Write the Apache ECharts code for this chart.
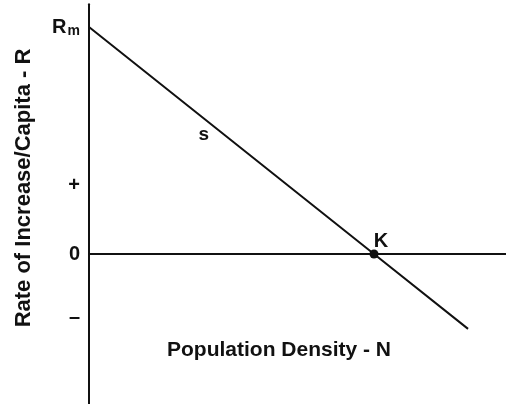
<!DOCTYPE html>
<html>
<head>
<meta charset="utf-8">
<script src="https://cdn.jsdelivr.net/npm/echarts@6/dist/echarts.min.js"></script>
<style>
  html, body { margin: 0; padding: 0; background: #fff; }
  #chart { width: 506px; height: 404px; }
</style>
</head>
<body>
<div id="chart"></div>
<script>
// logistic growth: per-capita rate falls linearly with density
const lineN = [0, 100, 133];
const lineR = [1, 0, -0.33];
const tickValues = [-0.28, 0, 0.3, 1];
const tickLabels = ["–", "0", "+", "Rm"];
const kPoint = [100, 0];
const slopeLabelAt = [41, 0.59];

const ink = "#111";
const font = "Liberation Sans";

const chart = echarts.init(document.getElementById("chart"));
const option = {
  animation: false,
  backgroundColor: "#fff",
  grid: { left: 89, top: 4.3, width: 427.5, height: 399.5, outerBoundsMode: "none" },
  xAxis: {
    type: "value",
    min: 0,
    max: 150,
    axisLine: { show: true, onZero: true, lineStyle: { color: ink, width: 2 } },
    axisTick: { show: false },
    axisLabel: { show: false },
    splitLine: { show: false },
  },
  yAxis: {
    type: "value",
    min: -0.66,
    max: 1.1,
    axisLine: { show: true, lineStyle: { color: ink, width: 2 } },
    axisTick: { show: false },
    splitLine: { show: false },
    axisLabel: {
      customValues: tickValues,
      margin: 9,
      formatter: (v) => {
        const i = tickValues.indexOf(v);
        const t = tickLabels[i];
        if (t === "Rm") return "{b|R}{s|m}";
        return "{b|" + t + "}";
      },
      rich: {
        b: { fontFamily: font, fontWeight: "bold", fontSize: 20, color: ink },
        s: { fontFamily: font, fontWeight: "bold", fontSize: 14, color: ink, padding: [8, 0, 0, 1] },
      },
    },
  },
  graphic: [
    {
      type: "text",
      x: 279,
      y: 350,
      style: {
        text: "Population Density - N",
        font: "bold 21px " + font,
        fill: ink,
        textAlign: "center",
        textVerticalAlign: "middle",
      },
    },
    {
      type: "text",
      x: 24,
      y: 188,
      rotation: Math.PI / 2,
      style: {
        text: "Rate of Increase/Capita - R",
        font: "bold 22px " + font,
        fill: ink,
        textAlign: "center",
        textVerticalAlign: "middle",
      },
    },
  ],
  series: [
    {
      type: "line",
      data: lineN.map((n, i) => [n, lineR[i]]),
      symbol: "none",
      lineStyle: { color: ink, width: 2 },
      z: 3,
    },
    {
      type: "scatter",
      data: [kPoint],
      symbolSize: 9,
      itemStyle: { color: ink, opacity: 1 },
      label: {
        show: true,
        formatter: "K",
        position: "top",
        offset: [7, 7],
        fontFamily: font,
        fontWeight: "bold",
        fontSize: 20,
        color: ink,
      },
      z: 4,
    },
    {
      type: "scatter",
      data: [slopeLabelAt],
      symbolSize: 0,
      itemStyle: { opacity: 1 },
      label: {
        show: true,
        formatter: "s",
        position: "inside",
        offset: [-2, 15],
        fontFamily: font,
        fontWeight: "bold",
        fontSize: 19,
        color: ink,
      },
    },
  ],
};
chart.setOption(option);
</script>
</body>
</html>
